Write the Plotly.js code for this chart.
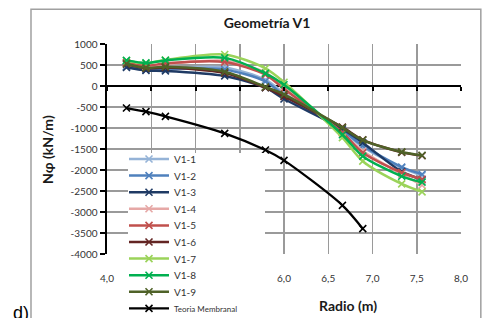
<!DOCTYPE html>
<html>
<head>
<meta charset="utf-8">
<script src="https://cdn.plot.ly/plotly-3.0.1.min.js"></script>
<style>html,body{margin:0;padding:0;background:#fff;}#chart{width:482px;height:318px;}</style>
</head>
<body>
<div id="chart"></div>
<script>
// Radio (m) positions
var xV = [4.22, 4.44, 4.66, 5.33, 5.79, 6.00, 6.66, 6.89, 7.33, 7.56];
var xTM = [4.22, 4.44, 4.66, 5.33, 5.79, 6.00, 6.66, 6.89];

// N-phi (kN/m) series
var V1_1 = [470, 400, 420, 440, 150, -170, -1080, -1450, -1950, -2130];
var V1_2 = [460, 390, 400, 390, 110, -220, -1060, -1420, -1930, -2100];
var V1_3 = [440, 370, 360, 240, -40, -310, -1020, -1350, -2040, -2230];
var V1_4 = [540, 470, 520, 600, 320, -20, -1120, -1550, -2100, -2360];
var V1_5 = [560, 480, 540, 570, 270, -70, -1110, -1590, -2060, -2220];
var V1_6 = [520, 420, 440, 310, -40, -250, -980, -1280, -1580, -1660];
var V1_7 = [600, 540, 620, 750, 420, 90, -1230, -1790, -2330, -2520];
var V1_8 = [610, 550, 610, 670, 300, 30, -1160, -1670, -2150, -2290];
var V1_9 = [530, 430, 460, 340, -20, -200, -990, -1290, -1570, -1650];
var TM = [-524, -611, -722, -1127, -1524, -1770, -2841, -3397];

var seriesNames = ['V1-1','V1-2','V1-3','V1-4','V1-5','V1-6','V1-7','V1-8','V1-9'];
var seriesData = [V1_1, V1_2, V1_3, V1_4, V1_5, V1_6, V1_7, V1_8, V1_9];
var seriesColors = ['#95B3D7','#4F81BD','#1F3A64','#E6A8A6','#C0504D','#632523','#9BD35A','#00B050','#4F6228'];

// tick labels (4,5 / 5,0 / 5,5 sit behind the legend in the reference)
var xTickVals = [4.0, 4.5, 5.0, 5.5, 6.0, 6.5, 7.0, 7.5, 8.0];
var xTickText = ['4,0','','','','6,0','6,5','7,0','7,5','8,0'];
var yTickVals = [1000, 500, 0, -500, -1000, -1500, -2000, -2500, -3000, -3500, -4000];
var yTickText = ['1000','500','0','-500','-1000','-1500','-2000','-2500','-3000','-3500','-4000'];

var FONT = 'Lato, "Open Sans", sans-serif';

var traces = [];
for (var i = 0; i < seriesNames.length; i++) {
  traces.push({
    x: xV, y: seriesData[i], name: seriesNames[i], type: 'scatter', mode: 'lines+markers',
    line: {color: seriesColors[i], width: 2.5, shape: 'spline', smoothing: 0.8},
    marker: {symbol: 'x-thin', size: 7, color: seriesColors[i], line: {color: seriesColors[i], width: 1.6}}
  });
}
traces.push({
  x: xTM, y: TM, name: '<span style="font-size:8px">Teoria Membranal</span>', type: 'scatter', mode: 'lines+markers',
  line: {color: '#000000', width: 2.3, shape: 'spline', smoothing: 0.8},
  marker: {symbol: 'x-thin', size: 7, color: '#000000', line: {color: '#000000', width: 1.6}}
});
traces.push({x: [], y: [], xaxis: 'x2', showlegend: false, hoverinfo: 'skip', type: 'scatter'});

var layout = {
  width: 482, height: 318,
  margin: {l: 107, r: 21, t: 44, b: 64},
  paper_bgcolor: '#ffffff', plot_bgcolor: '#ffffff',
  font: {family: FONT, size: 10, color: '#333333'},
  showlegend: true,
  title: {text: '<b>Geometría V1</b>', font: {family: FONT, size: 14, color: '#1a1a1a'},
          xref: 'container', x: 0.554, xanchor: 'center', yref: 'container', y: 0.928, yanchor: 'middle'},
  xaxis: {
    range: [4, 8], tickvals: xTickVals, ticktext: xTickText, showgrid: true,
    gridcolor: '#9a9a9a', gridwidth: 1.5, zeroline: false, showline: false, ticks: '',
    ticklabelstandoff: 17, tickfont: {family: FONT, size: 10, color: '#333333'}
  },
  xaxis2: {
    overlaying: 'x', anchor: 'free', position: 0.8, range: [4, 8], tickvals: xTickVals,
    showticklabels: false, showgrid: false, zeroline: false, showline: false,
    ticks: 'outside', ticklen: 4, tickwidth: 2, tickcolor: '#000000'
  },
  yaxis: {
    range: [-4000, 1000], tickvals: yTickVals, ticktext: yTickText, showgrid: true,
    gridcolor: '#9a9a9a', gridwidth: 1.5, zeroline: true, zerolinecolor: '#000000', zerolinewidth: 2.5,
    showline: true, linecolor: '#000000', linewidth: 2.5, ticks: 'outside', ticklen: 5, tickwidth: 2,
    tickcolor: '#000000', tickfont: {family: FONT, size: 10, color: '#333333'}
  },
  legend: {
    x: 0.05, y: 0.48, xanchor: 'left', yanchor: 'top', bgcolor: '#ffffff',
    borderwidth: 0, font: {family: FONT, size: 10, color: '#333333'}, itemwidth: 40,
    tracegroupgap: 0, maxheight: 1
  },
  shapes: [
    {type: 'rect', xref: 'paper', yref: 'paper', x0: -0.2147, x1: 1.056, y0: -0.35, y1: 1.165,
     line: {color: '#a0a0a0', width: 1.5}, fillcolor: 'rgba(0,0,0,0)', layer: 'below'}
  ],
  annotations: [
    {text: '<b>Nφ (kN/m)</b>', xref: 'paper', yref: 'paper', x: -0.1695, y: 0.5, xanchor: 'center', yanchor: 'middle',
     textangle: -90, showarrow: false, font: {family: FONT, size: 14, color: '#1a1a1a'}},
    {text: '<b>Radio (m)</b>', xref: 'paper', yref: 'paper', x: 0.681, y: -0.243, xanchor: 'center', yanchor: 'middle',
     showarrow: false, font: {family: FONT, size: 14, color: '#1a1a1a'}},
    {text: 'd)', xref: 'paper', yref: 'paper', x: -0.243, y: -0.225, xanchor: 'center', yanchor: 'top',
     showarrow: false, font: {family: '"Liberation Sans", Arial, sans-serif', size: 18, color: '#000000'}}
  ]
};

// Compact the legend rows to the reference spacing (Plotly's minimum row height is 19px)
function compactLegend(gd) {
  var leg = gd.querySelector('g.legend');
  if (!leg) return;
  var LEFT = 124, TOP = 153, STEP = 16.6, FIRST = 6;
  leg.setAttribute('transform', 'translate(' + LEFT + ',' + TOP + ')');
  var sb = leg.querySelector('g.scrollbox');
  if (sb) { sb.removeAttribute('clip-path'); sb.setAttribute('transform', 'translate(0,0)'); }
  var bar = leg.querySelector('rect.scrollbar');
  if (bar) bar.style.display = 'none';
  var bg = leg.querySelector('rect.bg');
  if (bg) { bg.setAttribute('x', 4); bg.setAttribute('y', 0); bg.setAttribute('width', 137); bg.setAttribute('height', 170); }
  var items = leg.querySelectorAll('g.traces');
  for (var k = 0; k < items.length; k++) {
    var tr = items[k].getAttribute('transform') || '';
    var m = /translate\(\s*([-\d.e]+)/.exec(tr);
    var tx = m ? parseFloat(m[1]) : 0;
    items[k].setAttribute('transform', 'translate(' + tx + ',' + (FIRST + k * STEP) + ')');
  }
  var groups = leg.querySelectorAll('g.groups');
  for (var g = 0; g < groups.length; g++) groups[g].setAttribute('transform', 'translate(0,0)');
}

Plotly.newPlot('chart', traces, layout, {displayModeBar: false, staticPlot: true}).then(compactLegend);
</script>
</body>
</html>
